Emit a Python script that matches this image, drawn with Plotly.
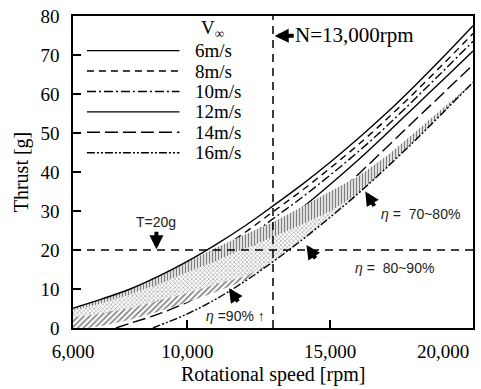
import plotly.graph_objects as go

# ---------------- data ----------------
rpm = [6000, 7000, 8000, 9000, 10000, 11000, 12000, 13000, 14000, 15000,
       16000, 17000, 18000, 19000, 20000]
thrust_6 = [5.1, 7.4, 10.0, 13.3, 17.1, 21.4, 26.1, 31.3, 36.7, 42.5, 48.7, 55.3, 62.4, 69.8, 77.5]
thrust_8 = [3.2, 5.5, 8.1, 11.3, 15.1, 19.5, 24.4, 29.8, 35.2, 41.0, 47.1, 53.7, 60.7, 68.0, 75.5]
thrust_10 = [1.2, 3.4, 6.0, 9.2, 13.0, 17.4, 22.4, 28.0, 33.4, 39.2, 45.3, 51.9, 59.0, 66.2, 73.5]

rpm_12 = [6400, 7000, 8000, 9000, 10000, 11000, 12000, 13000, 14000, 15000,
          16000, 17000, 18000, 19000, 20000]
thrust_12 = [0.0, 1.6, 3.9, 6.9, 10.5, 14.7, 19.5, 25.0, 30.7, 36.8, 43.2, 50.0, 57.0, 64.0, 71.0]

rpm_14 = [7500, 8000, 9000, 10000, 11000, 12000, 13000, 14000, 15000,
          16000, 17000, 18000, 19000, 20000]
thrust_14 = [0.0, 1.2, 3.6, 6.6, 10.3, 15.0, 20.6, 26.6, 32.9, 39.5, 46.5, 53.5, 60.5, 67.5]

rpm_16 = [8800, 9000, 10000, 11000, 12000, 13000, 14000, 15000,
          16000, 17000, 18000, 19000, 20000]
thrust_16 = [0.0, 0.6, 3.6, 7.4, 11.9, 17.0, 22.5, 28.4, 34.6, 41.3, 48.3, 55.6, 63.0]

speed_labels = ["6m/s", "8m/s", "10m/s", "12m/s", "14m/s", "16m/s"]

# efficiency band boundaries (thrust [g]) on a common rpm grid
band_rpm = [6000, 6500, 7000, 8000, 9000, 10000, 11000, 12000, 13000, 14000,
            15000, 16000, 17000, 18000, 19000, 20000]
band_top = [5.1, 6.2, 7.4, 10.0, 13.3, 17.0, 20.6, 23.9, 27.1, 31.0, 35.0, 39.0, 44.2, 50.4, 56.7, 63.0]
band_eta80 = [4.4, 5.3, 6.3, 8.6, 11.3, 14.2, 17.2, 20.3, 23.3, 26.5, 29.9, 34.6, 41.3, 48.3, 55.6, 63.0]
band_eta90 = [2.8, 3.2, 3.7, 5.1, 6.9, 9.0, 11.2, 13.2, 17.0, 22.5, 28.4, 34.6, 41.3, 48.3, 55.6, 63.0]
band_bottom = [0.0, 0.0, 0.5, 2.1, 4.2, 6.6, 9.2, 12.2, 17.0, 22.5, 28.4, 34.6, 41.3, 48.3, 55.6, 63.0]

N_ref = 13000   # rpm reference line
T_ref = 20      # thrust reference line [g]

x_ticks = [6000, 10000, 15000, 20000]
x_ticktext = ["6,000", "10,000", "15,000", "20,000"]

# ---------------- styling ----------------
SERIF = "Liberation Serif"
SANS = "Liberation Sans"
dashes = ["solid", "7px,5px", "9px,3px,2px,3px", "solid", "13px,5px", "8px,2px,2px,2px,2px,2px"]
series_x = [rpm, rpm, rpm, rpm_12, rpm_14, rpm_16]
series_y = [thrust_6, thrust_8, thrust_10, thrust_12, thrust_14, thrust_16]

fig = go.Figure()

def add_line(i):
    fig.add_trace(go.Scatter(x=series_x[i], y=series_y[i], mode="lines", name=speed_labels[i],
                             line=dict(color="black", width=1.4, dash=dashes[i], shape="spline"),
                             showlegend=False, hoverinfo="skip"))

# lines that get partly hidden by the hatched bands
for i in [1, 2, 3, 4]:
    add_line(i)

def add_band(upper, lower, shape, size, solidity, fg):
    xs = band_rpm + band_rpm[::-1]
    ys = upper + lower[::-1]
    fig.add_trace(go.Scatter(x=xs, y=ys, mode="none", fill="toself", showlegend=False,
                             hoverinfo="skip", fillcolor="white",
                             fillpattern=dict(shape=shape, size=size, solidity=solidity,
                                              fgcolor=fg, bgcolor="white")))

add_band(band_top, band_eta80, "|", 3, 0.5, "black")
add_band(band_eta80, band_eta90, "x", 3, 0.42, "#555555")
add_band(band_eta90, band_bottom, "/", 4, 0.4, "black")

for i in [0, 5]:
    add_line(i)

# reference lines
fig.add_shape(type="line", xref="x", yref="y", x0=N_ref, x1=N_ref, y0=0, y1=80,
              line=dict(color="black", width=1.5, dash="8px,6px"))
fig.add_shape(type="line", xref="x", yref="y", x0=6000, x1=20000, y0=T_ref, y1=T_ref,
              line=dict(color="black", width=1.5, dash="8px,6px"))

# ---------------- manual legend ----------------
plot_w, plot_h = 402.0, 315.0
leg_x0, leg_x1, leg_text_x = 14, 107, 121   # px from plot left
leg_y_top, leg_dy = 280, 20.6               # px from plot bottom
for i, lab in enumerate(speed_labels):
    yy = (leg_y_top - i * leg_dy) / plot_h
    fig.add_shape(type="line", xref="paper", yref="paper",
                  x0=leg_x0 / plot_w, x1=leg_x1 / plot_w, y0=yy, y1=yy,
                  line=dict(color="black", width=1.4, dash=dashes[i]))
    fig.add_annotation(xref="paper", yref="paper", x=leg_text_x / plot_w, y=yy,
                       text=lab, showarrow=False, xanchor="left", yanchor="middle",
                       font=dict(family=SERIF, size=19, color="black"))
fig.add_annotation(xref="paper", yref="paper", x=127 / plot_w, y=302 / plot_h,
                   text="V<sub>∞</sub>", showarrow=False, xanchor="left", yanchor="middle",
                   font=dict(family=SERIF, size=19, color="black"))

# ---------------- annotations ----------------
ARROW = dict(showarrow=True, arrowhead=2, arrowsize=0.7, arrowwidth=4, arrowcolor="black")

def arrow(x, y, ax, ay):
    fig.add_annotation(x=x, y=y, ax=ax, ay=ay, text="", **ARROW)

fig.add_annotation(x=13060, y=74.9, ax=80, ay=-1, text="N=13,000rpm",
                   font=dict(family=SERIF, size=21, color="black"), **ARROW)

fig.add_annotation(x=8920, y=20.2, ax=0, ay=-27, text="T=20g",
                   font=dict(family=SANS, size=14, color="#222222"), **ARROW)

arrow(16230, 35.0, 10, 16)
fig.add_annotation(x=18150, y=29.2, text="<i>η</i> =  70~80%", showarrow=False,
                   font=dict(family=SANS, size=14, color="#222222"))

arrow(14170, 21.3, 10, 15)
fig.add_annotation(x=17250, y=15.4, text="<i>η</i> =  80~90%", showarrow=False,
                   font=dict(family=SANS, size=14, color="#222222"))

arrow(11460, 10.2, 10, 15)
fig.add_annotation(x=11700, y=3.0, text="<i>η</i> =90% ↑", showarrow=False,
                   font=dict(family=SANS, size=14, color="#222222"))

# right-most x tick label kept inside the figure
fig.add_annotation(xref="x", yref="paper", x=x_ticks[-1], y=0, yshift=-11, xshift=-2,
                   text=x_ticktext[-1], showarrow=False, xanchor="right", yanchor="top",
                   font=dict(family=SERIF, size=19, color="black"))

# x-axis title
fig.add_annotation(xref="paper", yref="paper", x=0.5, y=0, yshift=-46,
                   text="Rotational speed [rpm]", showarrow=False,
                   xanchor="center", yanchor="middle",
                   font=dict(family=SERIF, size=20, color="black"))

fig.update_layout(
    width=481, height=389,
    margin=dict(l=73, r=6, t=13, b=61),
    paper_bgcolor="white", plot_bgcolor="white",
    font=dict(family=SERIF, color="black"),
    showlegend=False,
)
fig.update_xaxes(range=[6000, 20000], showgrid=False, zeroline=False,
                 showline=True, linecolor="black", linewidth=1.5, mirror=True,
                 ticks="inside", ticklen=8, tickwidth=1.5, tickcolor="black",
                 tickvals=x_ticks, ticktext=x_ticktext[:-1] + [""],
                 tickfont=dict(family=SERIF, size=19, color="black"),
                 ticklabelstandoff=5)
fig.update_yaxes(range=[0, 80], dtick=10, showgrid=False, zeroline=False,
                 showline=True, linecolor="black", linewidth=1.5, mirror=True,
                 ticks="inside", ticklen=8, tickwidth=1.5, tickcolor="black",
                 tickfont=dict(family=SERIF, size=19, color="black"),
                 ticklabelstandoff=8,
                 title=dict(text="Thrust [g]", font=dict(family=SERIF, size=20), standoff=6))

fig.write_html("out.html")
